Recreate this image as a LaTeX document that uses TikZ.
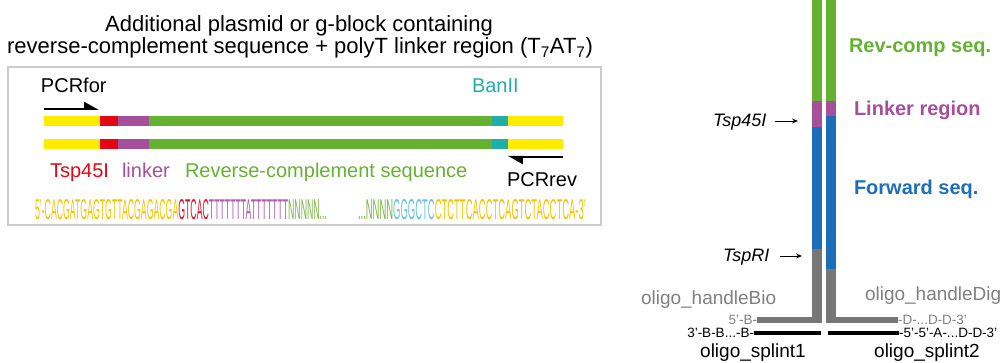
\documentclass[tikz,border=0pt]{standalone}
\usepackage{fontspec}
\setmainfont{Liberation Sans}
\usetikzlibrary{arrows.meta}
\definecolor{cyel}{HTML}{FFEC00}
\definecolor{cred}{HTML}{E30613}
\definecolor{cpur}{HTML}{A64F9A}
\definecolor{cgrn}{HTML}{64B22F}
\definecolor{cteal}{HTML}{22AEA8}
\definecolor{cblue}{HTML}{1B6EB7}
\definecolor{cgray}{HTML}{777777}
\definecolor{tgray}{HTML}{808080}
\definecolor{boxg}{HTML}{CCCCCC}
\definecolor{sy}{HTML}{F8C300}
\definecolor{sr}{HTML}{E5132B}
\definecolor{sp}{HTML}{B55BAE}
\definecolor{sg}{HTML}{77B541}
\definecolor{sb}{HTML}{66C4E2}
\begin{document}
\begin{tikzpicture}[x=1pt,y=-1pt,
  txt/.style={inner sep=0pt, outer sep=0pt},
  ftitle/.style={font=\fontsize{22}{22}\selectfont},
  flab/.style={font=\fontsize{20}{20}\selectfont},
  fbold/.style={font=\fontsize{20}{20}\selectfont\bfseries},
  fit/.style={font=\fontsize{18}{18}\selectfont\itshape},
  folig/.style={font=\fontsize{19}{19}\selectfont},
  fsmall/.style={font=\fontsize{13.5}{13.5}\selectfont},
  primer/.style={line width=2pt, -{Triangle[left,length=13pt,width=14pt]}},
  site/.style={line width=0.9pt, -{Stealth[length=6pt,width=5pt]}}
]
\useasboundingbox (0,0) rectangle (1005,363);

% ---------- left panel ----------
\node[txt, ftitle, anchor=base] (title1) at (299,32) {Additional plasmid or g-block containing};
\node[txt, ftitle, anchor=base] (title2) at (300,54) {reverse-complement sequence + polyT linker region (T\textsubscript{7}AT\textsubscript{7})};

\draw[boxg, line width=1.3pt] (8,67) rectangle (601,225);

\node[txt, flab, anchor=base west] (pcrfor) at (41,93) {PCRfor};
\node[txt, flab, anchor=base west, text=cteal] (banii) at (472,93) {BanII};

\coordinate (pf1) at (44,109);
\coordinate (pf2) at (99,109);
\draw[primer] (pf1) -- (pf2);

\foreach \t in {116,139}{
  \fill[cyel] (44,\t) rectangle (100,\t+10);
  \fill[cred] (100,\t) rectangle (118,\t+10);
  \fill[cpur] (118,\t) rectangle (149,\t+10);
  \fill[cgrn] (149,\t) rectangle (492,\t+10);
  \fill[cteal] (492,\t) rectangle (508,\t+10);
  \fill[cyel] (508,\t) rectangle (563,\t+10);
}

\coordinate (pr1) at (563,157);
\coordinate (pr2) at (508,157);
\draw[primer] (pr1) -- (pr2);

\node[txt, flab, anchor=base west, text=cred] (labtsp) at (50,178) {Tsp45I};
\node[txt, flab, anchor=base west, text=cpur] (lablink) at (122,178) {linker};
\node[txt, flab, anchor=base west, text=cgrn] (labrc) at (185,178) {Reverse-complement sequence};
\node[txt, flab, anchor=base west] (pcrrev) at (507,187) {PCRrev};

\node[txt, anchor=base west] (seqA) at (35,220) {\resizebox{292pt}{20pt}{\color{sy}5'-CACGATGAGTGTTACGAGACGA\color{sr}GTCAC\color{sp}TTTTTTTATTTTTTT\color{sg}NNNNN...}};
\node[txt, anchor=base west] (seqB) at (358,220) {\resizebox{228pt}{20pt}{\color{sg}...NNNN\color{sb}GGGCTC\color{sy}CTCTTCACCTCAGTCTACCTCA-3'}};

% ---------- right panel ----------
\fill[cgrn] (812,0) rectangle (822,100.7);
\fill[cpur] (812,100.7) rectangle (822,127);
\fill[cblue] (812,127) rectangle (822,249);
\fill[cgray] (812,249) rectangle (822,323);
\fill[cgray] (757,317) rectangle (822,323);

\fill[cgrn] (826,0) rectangle (836,100.7);
\fill[cpur] (826,100.7) rectangle (836,116);
\fill[cblue] (826,116) rectangle (836,269);
\fill[cgray] (826,269) rectangle (836,323);
\fill[cgray] (826,317) rectangle (898,323);

\fill[black] (754,331) rectangle (821,335);
\fill[black] (828,331) rectangle (899,335);

\node[txt, fbold, anchor=base west, text=cgrn] (rcseq) at (849,53) {Rev-comp seq.};
\node[txt, fbold, anchor=base west, text=cpur] (linkreg) at (854,116) {Linker region};
\node[txt, fbold, anchor=base west, text=cblue] (fwdseq) at (854,195) {Forward seq.};

\node[txt, fit, anchor=base west] (tsp45) at (713,127) {Tsp45I};
\coordinate (a1s) at (775,121);
\coordinate (a1e) at (798,121);
\draw[site] (a1s) -- (a1e);

\node[txt, fit, anchor=base west] (tspri) at (723,262) {TspRI};
\coordinate (a2s) at (780,256);
\coordinate (a2e) at (802,256);
\draw[site] (a2s) -- (a2e);

\node[txt, folig, anchor=base west, text=tgray] (hbio) at (641,305) {oligo\_handleBio};
\node[txt, folig, anchor=base west, text=tgray] (hdig) at (865,301) {oligo\_handleDig};

\node[txt, fsmall, anchor=east, text=tgray] (b5) at (757,320) {5'-B-};
\node[txt, fsmall, anchor=east] (b3) at (754,333) {3'-B-B...-B-};
\node[txt, fsmall, anchor=west, text=tgray] (d3) at (898,320) {-D-...D-D-3'};
\node[txt, fsmall, anchor=west] (d5) at (899,333) {-5'-5'-A-...D-D-3'};

\node[txt, folig, anchor=base] (spl1) at (753,358) {oligo\_splint1};
\node[txt, folig, anchor=base] (spl2) at (927,358) {oligo\_splint2};
\end{tikzpicture}
\end{document}
